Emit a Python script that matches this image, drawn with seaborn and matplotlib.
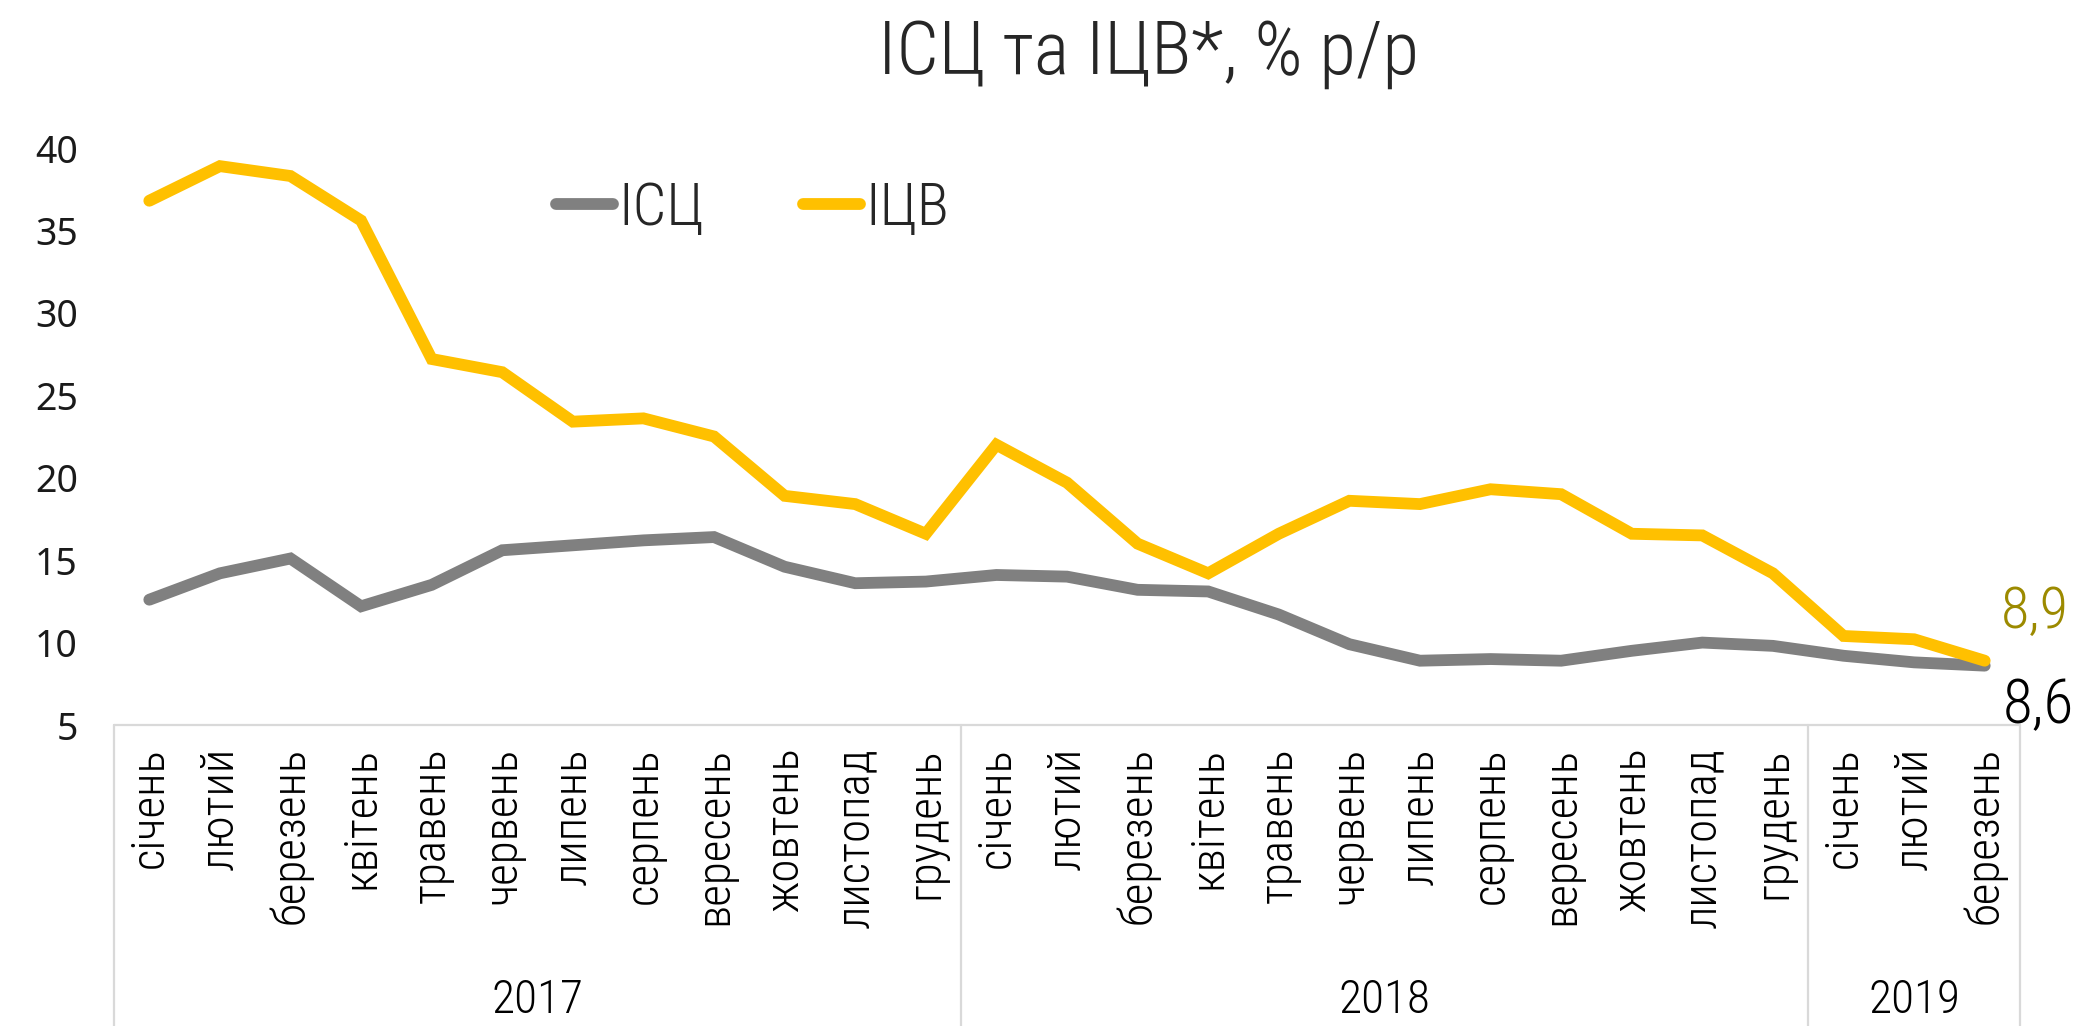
import numpy as np
import pandas as pd
import seaborn as sns
import matplotlib
matplotlib.use("Agg")
import matplotlib.pyplot as plt
from matplotlib import font_manager as fm
from matplotlib.lines import Line2D
import matplotlib.transforms as mtransforms

# ---- data ----
months = ["січень", "лютий", "березень", "квітень", "травень", "червень",
          "липень", "серпень", "вересень", "жовтень", "листопад", "грудень",
          "січень", "лютий", "березень", "квітень", "травень", "червень",
          "липень", "серпень", "вересень", "жовтень", "листопад", "грудень",
          "січень", "лютий", "березень"]
years = ["2017", "2018", "2019"]
year_counts = [12, 12, 3]
cpi = [12.6, 14.2, 15.1, 12.2, 13.5, 15.6, 15.9, 16.2, 16.4, 14.6, 13.6, 13.7,
       14.1, 14.0, 13.2, 13.1, 11.7, 9.9, 8.9, 9.0, 8.9, 9.5, 10.0, 9.8,
       9.2, 8.8, 8.6]
ppi = [36.8, 38.9, 38.3, 35.6, 27.2, 26.4, 23.4, 23.6, 22.5, 18.9, 18.4, 16.6,
       22.0, 19.7, 16.0, 14.2, 16.6, 18.6, 18.4, 19.3, 19.0, 16.6, 16.5, 14.2,
       10.4, 10.2, 8.9]
series_names = ["ІСЦ", "ІЦВ"]
yticks = [5, 10, 15, 20, 25, 30, 35, 40]

# ---- fonts ----
names = {f.name for f in fm.fontManager.ttflist}
COND = None
for nm in ["Roboto Condensed", "Open Sans Condensed", "Liberation Sans Narrow",
           "Noto Sans Condensed", "Noto Sans SemiCondensed", "Open Sans SemiCondensed"]:
    if nm in names:
        COND = dict(family=nm, fontweight="light")
        break
if COND is None:
    COND = dict(family="DejaVu Sans", stretch="condensed")
TICKFONT = dict(family="Noto Sans" if "Noto Sans" in names else "DejaVu Sans")

sns.set_theme(style="white")
colors = ["#808080", "#FFC000"]

n = len(months)
df = pd.DataFrame({
    "idx": list(range(n)) * 2,
    "value": cpi + ppi,
    "series": [series_names[0]] * n + [series_names[1]] * n,
})

fig = plt.figure(figsize=(20.75, 10.26), dpi=100)
ax = fig.add_axes([114 / 2075, 1 - 725 / 1026, (2020 - 114) / 2075, (725 - 148) / 1026])
sns.lineplot(data=df, x="idx", y="value", hue="series", palette=colors,
             linewidth=8.5, ax=ax, legend=False, solid_capstyle="round",
             solid_joinstyle="miter")

ax.set_xlim(-0.5, n - 0.5)
ax.set_ylim(5, 40)
ax.set_yticks(yticks)
ax.set_yticklabels([str(v) for v in yticks], fontsize=27, color="#1a1a1a",
                   fontweight="light", **TICKFONT)
ax.tick_params(axis="y", length=0, pad=26)
ax.set_xticks(range(n))
ax.set_xticklabels(months, rotation=90, fontsize=34, color="#000000", va="top", ha="center", **COND)
ax.tick_params(axis="x", length=0, pad=16)
ax.set_xlabel("")
ax.set_ylabel("")
for s in ax.spines.values():
    s.set_visible(False)
ax.grid(False)

# category box (multi-level axis)
trans = mtransforms.blended_transform_factory(ax.transData, ax.transAxes)
ybot = -(1026 - 725) / (725 - 148)
ax.plot([-0.5, n - 0.5], [0, 0], color="#D9D9D9", lw=1.6, transform=trans, clip_on=False)
bounds = [-0.5]
pos = -0.5
for c in year_counts:
    pos += c
    bounds.append(pos)
for b in bounds:
    ax.plot([b, b], [0, ybot], color="#D9D9D9", lw=1.6, transform=trans, clip_on=False)
ycen = -(1000 - 725) / (725 - 148)
for i, yr in enumerate(years):
    cx = (bounds[i] + bounds[i + 1]) / 2
    ax.text(cx, ycen, yr, transform=trans, ha="center", va="center",
            fontsize=34, color="#000000", **COND)

# end labels
ax.annotate(f"{ppi[-1]:.1f}".replace(".", ","), (n - 1, ppi[-1]), xytext=(16, 48),
            textcoords="offset pixels", ha="left", va="center", fontsize=42,
            color="#9C8A00", **COND)
ax.annotate(f"{cpi[-1]:.1f}".replace(".", ","), (n - 1, cpi[-1]), xytext=(18, -40),
            textcoords="offset pixels", ha="left", va="center", fontsize=44,
            color="#000000", **COND)

# legend
handles = [Line2D([0], [0], color=c, lw=8.5, solid_capstyle="round") for c in colors]
leg = fig.legend(handles, series_names, loc="center left",
                 bbox_to_anchor=(556 / 2075, 1 - 209 / 1026), ncol=2, frameon=False,
                 handlelength=0.95, handletextpad=0.1, columnspacing=1.65,
                 borderpad=0, borderaxespad=0,
                 prop=fm.FontProperties(size=43, family=COND["family"],
                                        weight=COND.get("fontweight", "normal"),
                                        stretch=COND.get("stretch", "normal")))

# title
fig.text(1148 / 2075, 1 - 53 / 1026, "ІСЦ та ІЦВ*, % р/р", ha="center", va="center",
         fontsize=54, color="#262626", **COND)

fig.savefig("out.png", dpi=100)
